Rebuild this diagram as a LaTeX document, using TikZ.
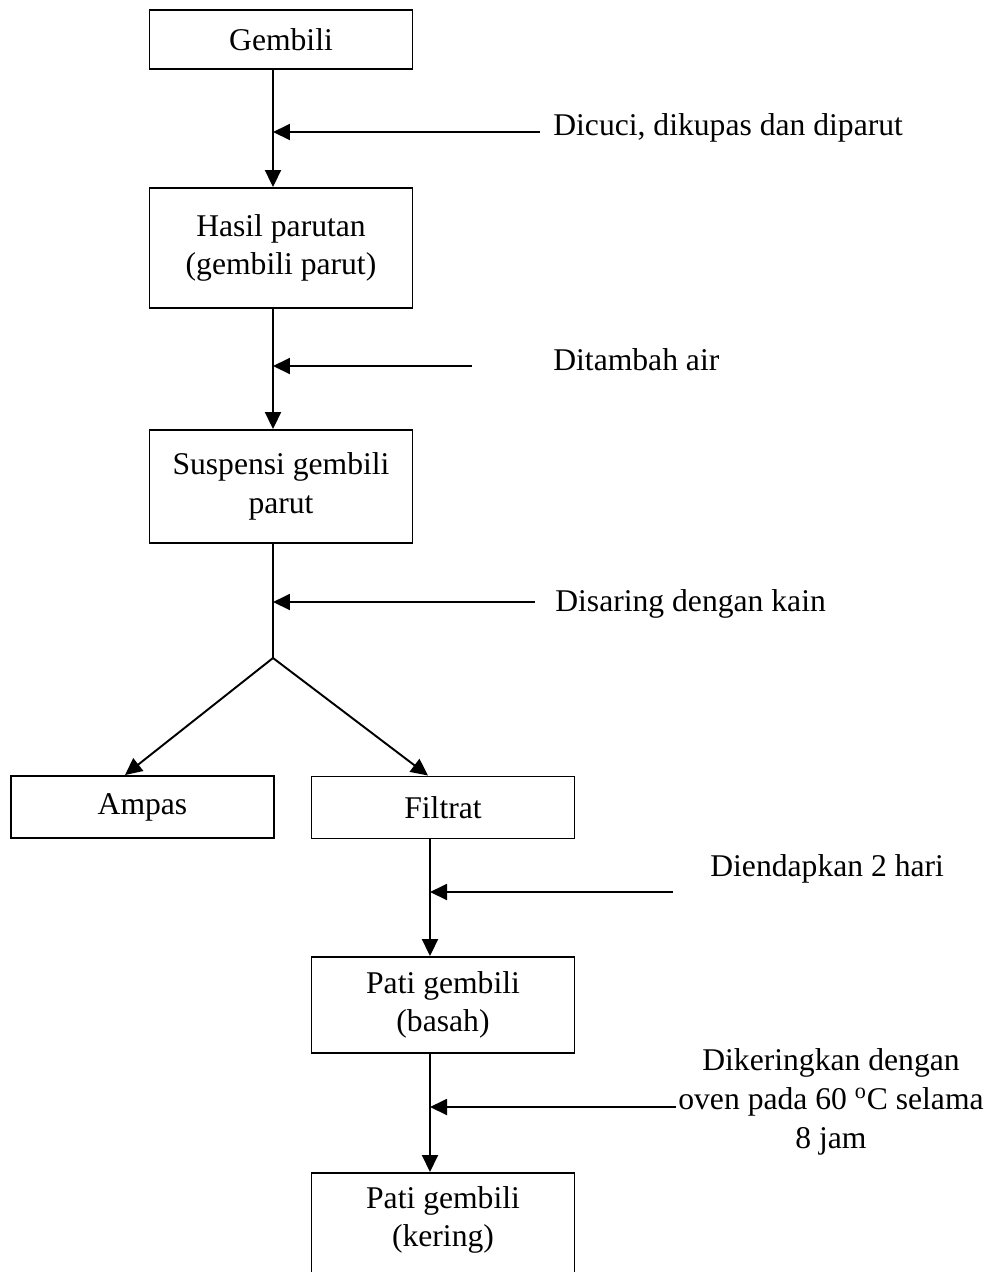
\documentclass[tikz,border=0pt]{standalone}
\usepackage{fontspec}
\setmainfont{Liberation Serif}
\usetikzlibrary{arrows.meta}
\tikzset{
  box/.style={draw, line width=1.1pt, minimum width=5.26cm, align=center, inner sep=2pt},
  flow/.style={line width=1.1pt, -{Triangle[length=0.34cm,width=0.32cm]}},
  plain/.style={line width=1.1pt},
  note/.style={inner sep=0pt, anchor=base west},
}

\begin{document}
\begin{tikzpicture}[x=0.02cm, y=-0.02cm, font=\fontsize{18}{22}\selectfont]
  \useasboundingbox (0,0) rectangle (1000,1272);
  \clip (0,0) rectangle (1000,1272);
  \coordinate (spine) at (273,0);
  \coordinate (spinetwo) at (430,0);
  \coordinate (split) at (273,658);
  % boxes
  \node[box, minimum height=1.18cm] (gembili) at (281,39.5) {Gembili};
  \node[box, minimum height=2.4cm] (parutan) at (281,248) {Hasil parutan\\(gembili parut)};
  \node[box, minimum height=2.26cm] (suspensi) at (281,486.5) {Suspensi gembili\\parut};
  \node[box, minimum height=1.24cm] (ampas) at (142.5,807) {Ampas};
  \node[box, minimum height=1.24cm] (filtrat) at (443,807.5) {Filtrat};
  \node[box, minimum height=1.92cm] (basah) at (443,1005) {Pati gembili\\(basah)};
  \node[box, minimum height=2.4cm, anchor=north] (kering) at (443,1172) {};
  \node[align=center] (keringtxt) at (443,1220) {Pati gembili\\(kering)};
  % process steps
  \node[note] (cuci) at (553,135) {Dicuci, dikupas dan diparut};
  \node[note] (air) at (553,370) {Ditambah air};
  \node[note] (saring) at (555,611) {Disaring dengan kain};
  \node[note] (endap) at (710,876) {Diendapkan 2 hari};
  \node[align=center] (oven) at (831,1102) {Dikeringkan dengan\\oven pada 60 \textsuperscript{o}C selama\\8 jam};
  \coordinate (in1) at (540,132);
  \coordinate (in2) at (472,366);
  \coordinate (in3) at (535,602);
  \coordinate (in4) at (673,892);
  \coordinate (in5) at (676,1107);
  % arrows
  \draw[flow] (gembili.south -| spine) -- (parutan.north -| spine);
  \draw[flow] (in1) -- (in1 -| spine);
  \draw[flow] (parutan.south -| spine) -- (suspensi.north -| spine);
  \draw[flow] (in2) -- (in2 -| spine);
  \draw[plain] (suspensi.south -| spine) -- (split);
  \draw[flow] (in3) -- (in3 -| spine);
  \draw[flow] (split) -- ([xshift=-0.35cm]ampas.north);
  \draw[flow] (split) -- ([xshift=-0.3cm]filtrat.north);
  \draw[flow] (filtrat.south -| spinetwo) -- (basah.north -| spinetwo);
  \draw[flow] (in4) -- (in4 -| spinetwo);
  \draw[flow] (basah.south -| spinetwo) -- (kering.north -| spinetwo);
  \draw[flow] (in5) -- (in5 -| spinetwo);
\end{tikzpicture}
\end{document}
